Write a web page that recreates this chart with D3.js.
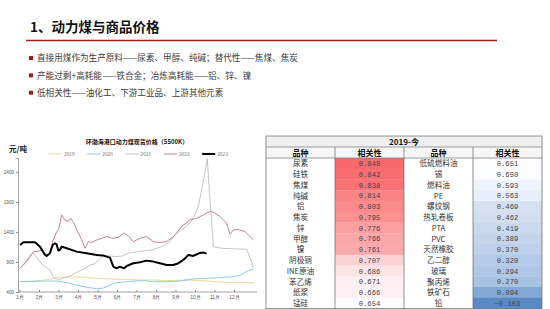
<!DOCTYPE html>
<html><head><meta charset="utf-8">
<script src="https://cdn.jsdelivr.net/npm/d3@7"></script>
<style>
html,body{margin:0;padding:0;background:#fff;}
svg{display:block;font-family:"Noto Sans CJK SC","Noto Sans",sans-serif;}
</style></head>
<body><svg id="c" width="550" height="309"></svg>
<script>
// ---------- text ----------
const pageTitle = "1、动力煤与商品价格";
const bullets = [
  "直接用煤作为生产原料——尿素、甲醇、纯碱；替代性——焦煤、焦炭",
  "产能过剩+高耗能——铁合金；冶炼高耗能——铝、锌、镍",
  "低相关性——油化工、下游工业品、上游其他元素"
];
const chartTitle = "环渤海港口动力煤现货价格（5500K）";
const yUnit = "元/吨";
const monthLabels = ["1月","2月","3月","4月","5月","6月","7月","8月","9月","10月","11月","12月"];
const yTicks = [400, 900, 1400, 1900, 2400];
const years = ["2019","2020","2021","2022","2023"];
const yearColors = ["#e3da8e","#86c6d6","#bdbdbd","#b5788b","#000000"];
const yearWidths = [0.9,0.9,0.9,0.9,2];

// ---------- series: [month position (0 = 1 Jan), price] ----------
const s2019 = [[0,575],[0.5,578],[1.0,588],[1.56,612],[1.9,640],[2.3,648],[2.6,650],[3.1,650],[3.5,640],[3.96,628],[4.64,617],[5.5,610],[6.18,600],[6.86,600],[7.55,590],[8.2,596],[8.57,600],[9.26,590],[9.94,575],[10.5,562],[10.96,556],[11.5,555],[12,556]];
const s2020 = [[0.03,572],[0.5,575],[1.0,580],[1.5,582],[1.9,583],[2.42,556],[2.93,517],[3.44,478],[3.96,455],[4.3,465],[4.64,517],[4.98,556],[5.5,572],[6.18,589],[6.5,585],[6.86,572],[7.55,572],[8.23,583],[8.91,617],[9.6,628],[10.28,639],[10.96,656],[11.3,680],[11.48,711],[11.74,756],[12.0,778]];
const s2021 = [[0.03,790],[0.3,900],[0.55,1010],[0.71,1050],[0.97,933],[1.2,850],[1.4,800],[1.56,767],[1.73,656],[1.99,600],[2.2,628],[2.59,667],[3.02,739],[3.36,795],[3.62,850],[3.87,870],[4.1,950],[4.38,1017],[4.6,1000],[4.9,989],[5.2,995],[5.58,1045],[6.1,1072],[6.78,1100],[7.29,1155],[7.72,1239],[7.97,1350],[8.32,1433],[8.74,1545],[9.0,1700],[9.17,1822],[9.34,2100],[9.51,2378],[9.63,2620],[9.73,2100],[9.86,1545],[9.94,1155],[10.3,1130],[10.8,1120],[11.3,1115],[11.65,1110],[11.85,950],[12.0,795]];
const s2022 = [[0.02,800],[0.2,850],[0.37,906],[0.55,990],[0.71,1070],[0.85,1075],[1.0,1080],[1.14,1100],[1.31,1045],[1.45,1010],[1.55,1040],[1.73,1267],[1.9,1400],[2.0,1433],[2.16,1683],[2.33,1600],[2.5,1572],[2.63,1628],[2.79,1545],[3.02,1380],[3.19,1267],[3.36,1128],[3.53,1239],[3.7,1220],[3.96,1267],[4.2,1290],[4.47,1322],[4.8,1294],[5.07,1310],[5.36,1378],[5.58,1333],[5.84,1239],[6.18,1294],[6.52,1322],[6.86,1239],[7.2,1222],[7.55,1239],[7.89,1322],[8.32,1489],[8.74,1600],[9.09,1628],[9.43,1683],[9.77,1745],[10.0,1720],[10.28,1656],[10.62,1544],[10.8,1360],[10.96,1433],[11.2,1440],[11.56,1406],[11.82,1322],[12.0,1267]];
const s2023 = [[0.03,1183],[0.2,1228],[0.5,1230],[0.8,1228],[1.05,1155],[1.31,1017],[1.39,1000],[1.56,1044],[1.7,1183],[1.82,1211],[1.9,1194],[1.99,1089],[2.08,1100],[2.16,1155],[2.42,1128],[2.93,1072],[3.44,1044],[3.96,1017],[4.3,1006],[4.64,972],[4.81,822],[4.98,794],[5.15,822],[5.36,794],[5.5,833],[5.84,878],[6.18,894],[6.52,922],[6.86,906],[7.2,878],[7.55,850],[7.89,850],[8.15,878],[8.32,917],[8.49,960],[8.66,1017],[8.91,1000],[9.09,1028],[9.26,1050],[9.43,1056],[9.6,1039]];
const seriesList = [s2019, s2020, s2021, s2022, s2023];

// ---------- table ----------
const tableTitle = "2019-今";
const colHeaders = ["品种","相关性","品种","相关性"];
const leftNames = ["尿素","硅铁","焦煤","纯碱","铝","焦炭","锌","甲醇","镍","阴极铜","INE原油","苯乙烯","纸浆","锰硅"];
const leftCorr  = [0.848,0.842,0.838,0.814,0.803,0.795,0.776,0.766,0.761,0.707,0.686,0.671,0.666,0.654];
const rightNames = ["低硫燃料油","锡","燃料油","PE","螺纹钢","热轧卷板","PTA","PVC","天然橡胶","乙二醇","玻璃","聚丙烯","铁矿石","铅"];
const rightCorr  = [0.651,0.650,0.593,0.563,0.469,0.462,0.419,0.389,0.370,0.320,0.294,0.270,0.094,-0.103];

const svg = d3.select("#c");

// ---------- header ----------
svg.append("text").attr("x",30).attr("y",32).attr("font-size",13.5).attr("font-weight","bold")
  .attr("fill","#111").text(pageTitle);
svg.append("line").attr("x1",26).attr("x2",497).attr("y1",40.5).attr("y2",40.5)
  .attr("stroke","#a11d21").attr("stroke-width",1.6);
const bulletY = d3.scalePoint().domain(d3.range(bullets.length)).range([58,92.7]);
bullets.forEach((b,i)=>{
  svg.append("rect").attr("x",29).attr("y",bulletY(i)-2).attr("width",4).attr("height",4).attr("fill","#a11d21");
  svg.append("text").attr("x",37).attr("y",bulletY(i)+3.2).attr("font-size",8.6).attr("fill","#404040").text(b);
});

// ---------- chart ----------
const x = d3.scaleLinear().domain([0,12]).range([19.5,253.5]);
const y = d3.scaleLinear().domain([400,2630]).range([292,158]);

svg.append("text").attr("x",137).attr("y",144).attr("text-anchor","middle").attr("font-size",6)
  .attr("font-weight","bold").attr("fill","#111").text(chartTitle);
svg.append("text").attr("x",9).attr("y",151.5).attr("font-size",7.5).attr("font-weight","bold")
  .attr("fill","#222").text(yUnit);

// legend
years.forEach((yr,i)=>{
  const lx = 49 + i*38.3;
  svg.append("line").attr("x1",lx).attr("x2",lx+13).attr("y1",154).attr("y2",154)
    .attr("stroke",yearColors[i]).attr("stroke-width",i===4?2:0.9);
  svg.append("text").attr("x",lx+15).attr("y",155.8).attr("font-size",4.8).attr("fill","#666").text(yr);
});

// axes
const yAxis = d3.axisLeft(y).tickValues(yTicks).tickSize(2).tickFormat(d3.format("d"));
const ya = svg.append("g").attr("transform","translate(18,0)").call(yAxis);
ya.select(".domain").attr("stroke","#888").attr("stroke-width",0.8);
ya.selectAll(".tick line").attr("stroke","#888");
ya.selectAll("text").attr("font-size",4.6).attr("fill","#555").attr("x",-4);

const xAxis = d3.axisBottom(x).tickValues(d3.range(12)).tickSize(2).tickFormat(i=>monthLabels[i]);
const xa = svg.append("g").attr("transform","translate(0,292)").call(xAxis);
xa.select(".domain").attr("stroke","#888").attr("stroke-width",0.8).attr("d","M18,0H257");
xa.selectAll(".tick line").attr("stroke","#888").attr("y2",-2);
xa.selectAll("text").attr("font-size",4.8).attr("fill","#555").attr("y",4);

const line = d3.line().x(d=>x(d[0])).y(d=>y(d[1]));
const g = svg.append("g");
seriesList.forEach((s,i)=>{
  g.append("path").datum(s).attr("d",line).attr("fill","none")
    .attr("stroke",yearColors[i]).attr("stroke-width",yearWidths[i]).attr("stroke-linejoin","round");
});

// ---------- table ----------
const tx0 = 266, colW = 69, tTop = 136, titleH = 11, headH = 11, rowH = 10.75;
const nRows = leftNames.length;
const tW = colW*4;
const allCorr = leftCorr.concat(rightCorr);
const med = d3.median(allCorr);
const color = d3.scaleLinear().domain([d3.min(allCorr), med, d3.max(allCorr)])
  .range(["#5a8ac6","#fcfcff","#f8696b"]);
const tg = svg.append("g");
tg.append("rect").attr("x",tx0).attr("y",tTop).attr("width",tW).attr("height",titleH).attr("fill","#efefef");
tg.append("rect").attr("x",tx0).attr("y",tTop+titleH).attr("width",tW).attr("height",headH).attr("fill","#f6f6f6");
tg.append("text").attr("x",tx0+tW/2).attr("y",tTop+titleH/2+3).attr("text-anchor","middle")
  .attr("font-size",8).attr("font-weight","bold").attr("fill","#111").text(tableTitle);
colHeaders.forEach((h,i)=>{
  tg.append("text").attr("x",tx0+colW*i+colW/2).attr("y",tTop+titleH+headH/2+3).attr("text-anchor","middle")
    .attr("font-size",8).attr("font-weight","bold").attr("fill","#111").text(h);
});
const rowY = i => tTop+titleH+headH+i*rowH;
[[leftNames,leftCorr,0],[rightNames,rightCorr,2]].forEach(([names,corr,c])=>{
  names.forEach((n,i)=>{
    tg.append("rect").attr("x",tx0+colW*(c+1)).attr("y",rowY(i)).attr("width",colW).attr("height",rowH+0.3)
      .attr("fill",color(corr[i]));
    tg.append("text").attr("x",tx0+colW*c+colW/2).attr("y",rowY(i)+rowH/2+3).attr("text-anchor","middle")
      .attr("font-size",7.6).attr("fill","#333").text(n);
    tg.append("text").attr("x",tx0+colW*(c+1)+colW/2).attr("y",rowY(i)+rowH/2+2.7).attr("text-anchor","middle")
      .attr("font-family","'Liberation Mono',monospace").attr("font-size",7.2).attr("fill","#444")
      .text(d3.format(".3f")(corr[i]));
  });
});
const tBottom = rowY(nRows);
tg.append("rect").attr("x",tx0).attr("y",tTop).attr("width",tW).attr("height",tBottom-tTop)
  .attr("fill","none").attr("stroke","#777").attr("stroke-width",0.8);
[tTop+titleH, tTop+titleH+headH].forEach(yy=>{
  tg.append("line").attr("x1",tx0).attr("x2",tx0+tW).attr("y1",yy).attr("y2",yy).attr("stroke","#777").attr("stroke-width",0.7);
});
[1,2,3].forEach(k=>{
  tg.append("line").attr("x1",tx0+colW*k).attr("x2",tx0+colW*k).attr("y1",tTop+titleH).attr("y2",tBottom)
    .attr("stroke","#666").attr("stroke-width",0.7);
});
</script></body></html>
